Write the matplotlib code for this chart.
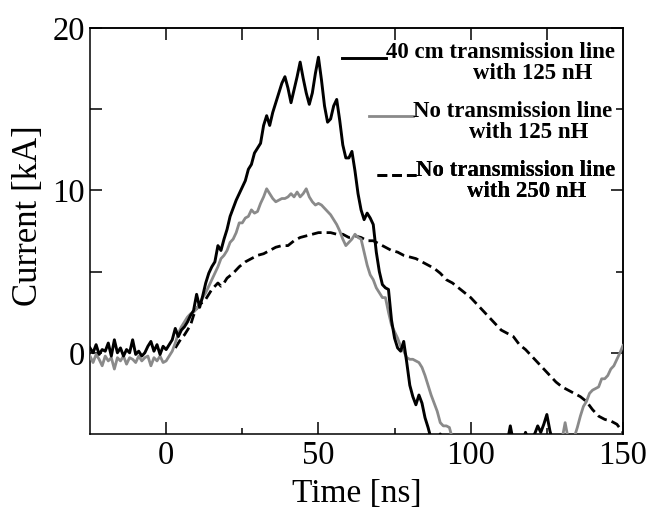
import matplotlib
matplotlib.use("Agg")
import matplotlib.pyplot as plt
from matplotlib.font_manager import FontProperties

# ---------------- data ----------------
t_black = [-25, -24, -23, -22, -21, -20, -19, -18, -17, -16, -15, -14, -13, -12, -11, -10,
           -9, -8, -7, -6, -5, -4, -3, -2, -1, 0, 1, 2, 3, 4, 5, 6, 7, 8, 9, 10,
           11, 12, 13, 14, 15, 16, 17, 18, 19, 20, 21, 22, 23, 24, 25, 26, 27, 28, 29, 30,
           31, 32, 33, 34, 35, 36, 37, 38, 39, 40, 41, 42, 43, 44, 45, 46, 47, 48, 49, 50,
           51, 52, 53, 54, 55, 56, 57, 58, 59, 60, 61, 62, 63, 64, 65, 66, 67, 68, 69, 70,
           71, 72, 73, 74, 75, 76, 77, 78, 79, 80, 81, 82, 83, 84, 85, 86, 87, 88, 90, 91,
           95, 100, 105, 110, 112, 113, 114, 117, 118, 119, 121, 122, 123, 124, 125, 126, 127,
           130, 140, 150]
i_black = [0.3, 0.0, 0.5, -0.1, 0.2, 0.1, 0.6, -0.2, 0.8, 0.0, 0.3, -0.2, 0.2, 0.0, 0.8, -0.1,
           0.1, -0.2, 0.0, 0.4, 0.7, 0.1, 0.5, -0.1, 0.4, 0.2, 0.5, 0.8, 1.5, 1.0, 1.4, 1.6, 1.9, 2.3, 2.6, 3.6,
           2.8, 3.5, 4.3, 4.9, 5.3, 5.6, 6.6, 6.3, 7.0, 7.6, 8.4, 8.9, 9.4, 9.8, 10.2, 10.6, 11.3, 11.6, 12.3, 12.6,
           12.9, 14.0, 14.6, 14.0, 14.8, 15.4, 16.0, 16.6, 17.0, 16.3, 15.4, 16.2, 17.0, 17.9, 16.9, 16.0, 15.3, 16.0, 17.2, 18.2,
           16.8, 15.2, 14.2, 14.4, 15.2, 15.6, 14.3, 12.8, 12.0, 12.0, 12.4, 11.2, 9.8, 8.8, 8.2, 8.6, 8.3, 7.9, 6.2, 5.0,
           4.2, 4.0, 3.9, 2.0, 0.9, 0.3, 0.1, 0.7, -0.6, -2.0, -2.7, -3.2, -2.6, -3.1, -4.0, -4.6, -5.3, -6.5, -5.0, -6.0,
           -7.0, -7.0, -7.0, -6.5, -5.5, -4.5, -5.5, -5.5, -4.9, -5.4, -5.0, -4.5, -4.9, -4.4, -3.8, -4.8, -5.5,
           -7.0, -8.0, -8.0]

t_gray = [-25, -24, -23, -22, -21, -20, -19, -18, -17, -16, -15, -14, -13, -12, -11, -10,
          -9, -8, -7, -6, -5, -4, -3, -2, -1, 0, 1, 2, 3, 4, 5, 6, 7, 8, 9, 10,
          11, 12, 13, 14, 15, 16, 17, 18, 19, 20, 21, 22, 23, 24, 25, 26, 27, 28, 29, 30,
          31, 32, 33, 34, 35, 36, 37, 38, 39, 40, 41, 42, 43, 44, 45, 46, 47, 48, 49, 50,
          51, 52, 53, 54, 55, 56, 57, 58, 59, 60, 61, 62, 63, 64, 65, 66, 67, 68, 69, 70,
          71, 72, 73, 74, 75, 76, 77, 78, 79, 80, 81, 82, 83, 84, 85, 86, 87, 88, 89, 90,
          91, 92, 93, 94, 95, 100, 110, 120, 128, 130, 131, 132, 134, 135, 136, 137, 138, 139, 140,
          141, 142, 143, 144, 145, 146, 147, 148, 149, 150]
i_gray = [-0.2, -0.6, -0.1, -0.4, -0.8, -0.2, -0.5, -0.3, -1.0, -0.3, -0.5, -0.2, -0.7, -0.3, -0.4, -0.6,
          -0.2, -0.5, -0.3, -0.2, -0.8, -0.3, -0.5, -0.2, -0.6, -0.5, -0.2, 0.1, 0.6, 1.2, 1.6, 1.9, 2.2, 2.4, 2.5, 2.7,
          3.0, 3.4, 3.7, 4.1, 4.5, 4.9, 5.3, 5.8, 6.0, 6.3, 6.8, 7.0, 7.4, 8.0, 8.0, 8.3, 8.4, 8.8, 8.6, 8.7,
          9.2, 9.6, 10.1, 9.8, 9.5, 9.3, 9.4, 9.5, 9.5, 9.6, 9.8, 9.6, 9.9, 9.6, 9.8, 10.1, 9.6, 9.3, 9.1, 9.2,
          9.1, 8.9, 8.7, 8.5, 8.2, 7.9, 7.5, 7.0, 6.6, 6.8, 7.0, 7.3, 7.1, 7.0, 6.2, 5.4, 4.8, 4.5, 4.0, 3.7,
          3.4, 3.4, 2.5, 1.7, 1.3, 0.9, 0.4, 0.1, -0.3, -0.4, -0.4, -0.5, -0.6, -0.9, -1.4, -2.0, -2.6, -3.1, -3.6, -4.3,
          -4.5, -4.5, -4.6, -5.3, -6.5, -8.0, -9.0, -8.0, -6.0, -5.3, -4.3, -5.3, -5.2, -4.6, -3.9, -3.3, -3.0, -2.5, -2.3,
          -2.2, -2.1, -1.6, -1.6, -1.4, -1.0, -0.8, -0.4, 0.0, 0.45]

t_dash = [3, 5, 6, 7, 8, 9, 10, 11, 12, 13, 14, 15, 16, 17, 18, 19, 20, 22, 24, 26, 28, 30,
          32, 34, 36, 38, 40, 42, 44, 46, 48, 50, 52, 54, 56, 58, 60, 62, 64, 66, 68, 70,
          72, 74, 76, 78, 80, 82, 84, 86, 88, 90, 92, 94, 96, 98, 100, 102, 104, 106, 108, 110,
          112, 114, 116, 118, 120, 122, 124, 126, 128, 130, 132, 134, 136, 138, 140, 142, 144, 146, 148, 150]
i_dash = [0.3, 0.9, 1.1, 1.4, 1.7, 2.3, 2.7, 3.0, 3.1, 3.3, 3.6, 3.9, 4.1, 4.3, 4.1, 4.3, 4.6, 4.9, 5.3, 5.6, 5.8, 6.0,
          6.1, 6.3, 6.5, 6.6, 6.6, 6.9, 7.1, 7.2, 7.3, 7.4, 7.4, 7.4, 7.3, 7.3, 7.1, 7.2, 7.1, 6.9, 6.9, 6.7,
          6.5, 6.3, 6.2, 6.0, 5.9, 5.8, 5.6, 5.4, 5.2, 4.9, 4.5, 4.3, 4.0, 3.7, 3.4, 3.0, 2.6, 2.2, 1.8, 1.4,
          1.2, 1.0, 0.5, 0.2, -0.2, -0.6, -1.0, -1.4, -1.8, -2.1, -2.3, -2.5, -2.7, -3.0, -3.5, -3.9, -4.1, -4.2, -4.4, -4.9]

labels = ["40 cm transmission line\nwith 125 nH    ",
          "No transmission line\nwith 125 nH    ",
          "No transmission line\nwith 250 nH     "]

x_major = [0, 50, 100, 150]
x_minor = [25, 75, 125]
x_top = [0, 25, 50, 75, 100, 125]
y_major = [0, 10, 20]
y_minor = [5, 15]

# ---------------- figure ----------------
plt.rcParams['font.family'] = ['Liberation Serif', 'DejaVu Serif']
fig = plt.figure(figsize=(6.5, 5.11), dpi=100)
ax = fig.add_axes([90 / 650, (511 - 434) / 511, 533 / 650, 406 / 511])

l3, = ax.plot(t_dash, i_dash, color='black', lw=2.0, ls=(0, (3.5, 1.8)), zorder=2)
l2, = ax.plot(t_gray, i_gray, color='#8a8a8a', lw=2.0, zorder=3)
l1, = ax.plot(t_black, i_black, color='black', lw=2.1, zorder=4)

ax.set_xlim(-25, 150)
ax.set_ylim(-5, 20)

for sp in ax.spines.values():
    sp.set_linewidth(1.1)

ax.set_xticks(x_major)
ax.set_xticks(x_minor, minor=True)
ax.set_yticks(y_major)
ax.set_yticks(y_minor, minor=True)
ax.tick_params(axis='x', which='major', direction='in', length=8.6, width=1.1,
               labelsize=23.5, pad=5.0, top=False)
ax.tick_params(axis='x', which='minor', direction='in', length=4.3, width=1.1, top=False)
ax.tick_params(axis='y', which='both', direction='in', length=8.6, width=1.1,
               labelsize=23.5, pad=3.5, right=False)

secx = ax.secondary_xaxis('top')
secx.set_xticks(x_top)
secx.tick_params(direction='in', length=8.6, width=1.1, labeltop=False)
secx.spines['top'].set_linewidth(1.1)

secy = ax.secondary_yaxis('right')
secy.set_yticks(y_major)
secy.set_yticks(y_minor, minor=True)
secy.tick_params(which='major', direction='in', length=8.6, width=1.1, labelright=False)
secy.tick_params(which='minor', direction='in', length=5.0, width=1.1, labelright=False)
secy.spines['right'].set_linewidth(1.1)

ax.set_xlabel('Time [ns]', fontsize=24)
ax.set_ylabel('Current [kA]', fontsize=25)
ax.xaxis.set_label_coords(0.5, (434 - 478) / 406)
ax.yaxis.set_label_coords((45 - 90) / 533, (434 - 216) / 406)

prop = FontProperties(family='Liberation Serif', weight='bold', size=16.5)
anchors = [(0.985, 0.966), (0.979, 0.821), (0.985, 0.676)]
hlens = [1.9, 1.9, 1.7]
for h, lab, anc, hl in zip([l1, l2, l3], labels, anchors, hlens):
    leg = ax.legend([h], [lab], loc='upper right', bbox_to_anchor=anc, frameon=False,
                    borderpad=0, borderaxespad=0, handlelength=hl, handletextpad=0.0,
                    handleheight=2.2, prop=prop)
    for t in leg.get_texts():
        t.set_multialignment('right')
        t.set_linespacing(1.0)
    ax.add_artist(leg)

fig.savefig('out.png', dpi=100)
